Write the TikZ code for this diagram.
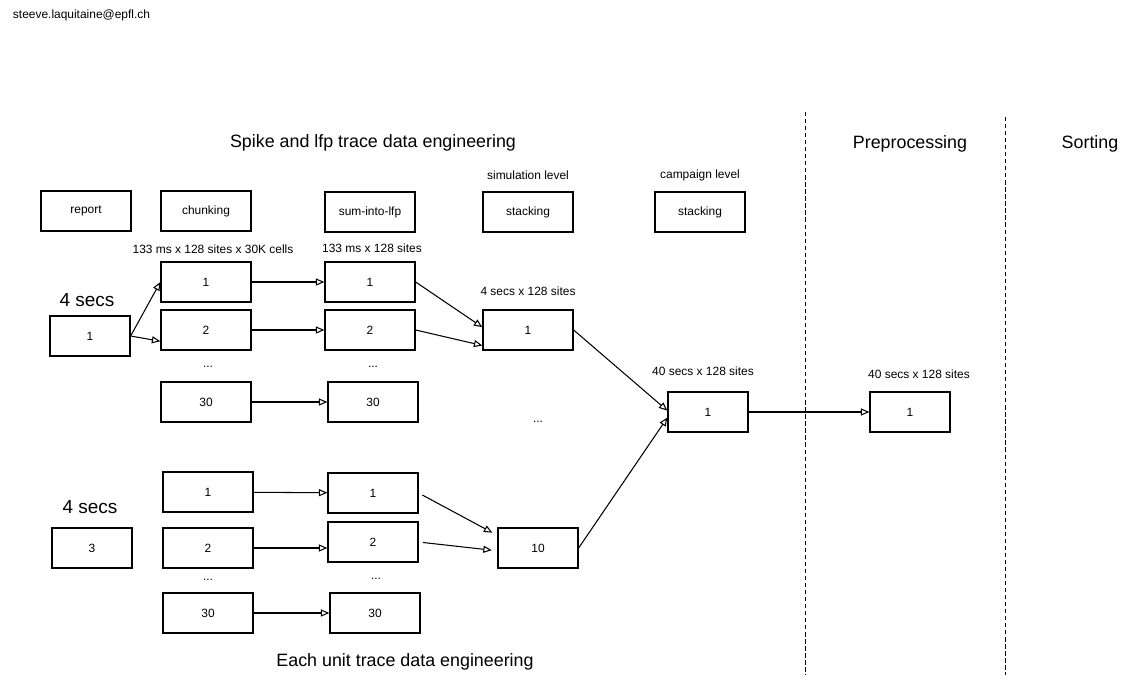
\documentclass[tikz,border=0pt]{standalone}
\usepackage{fontspec}
\setmainfont{Liberation Sans}
\usetikzlibrary{arrows.meta}

\begin{document}
\begin{tikzpicture}[x=0.025cm, y=-0.025cm,
	box/.style={draw, line width=0.9pt, minimum width=2.25cm, minimum height=1cm, inner sep=0pt, font=\fontsize{8.5}{10}\selectfont},
	sbox/.style={box, minimum width=2cm},
	lbl/.style={font=\fontsize{8.5}{10}\selectfont},
	head/.style={font=\fontsize{12.7}{15}\selectfont},
	secs/.style={font=\fontsize{13.5}{16}\selectfont},
	flow/.style={-{Triangle[open,length=6pt,width=5pt]}, line width=0.75pt}]

	\useasboundingbox (0,0) rectangle (1130,687);

	\node[lbl, anchor=west] (mail) at (8,15) {steeve.laquitaine@epfl.ch};

	\node[head] (spike) at (373,143) {Spike and lfp trace data engineering};
	\node[head] (prep) at (910,144) {Preprocessing};
	\node[head] (sort) at (1090,144) {Sorting};
	\node[head] (unit) at (405,662) {Each unit trace data engineering};

	\draw[line width=0.7pt, dash pattern=on 3pt off 2pt] (805,112) -- (805,675);
	\draw[line width=0.7pt, dash pattern=on 3pt off 2pt] (1005,117) -- (1005,675);

	\node[box] (report) at (86,211) {report};
	\node[box] (chunking) at (206,211) {chunking};
	\node[box] (sumlfp) at (370,212) {sum-into-lfp};
	\node[box] (simstack) at (528,212) {stacking};
	\node[box] (campstack) at (700,212) {stacking};
	\node[lbl] (simlvl) at (528,175) {simulation level};
	\node[lbl] (camplvl) at (700,175) {campaign level};

	\node[lbl] (chunklab) at (213,249) {133 ms x 128 sites x 30K cells};
	\node[lbl] (sumlab) at (372,248) {133 ms x 128 sites};
	\node[lbl] (simlab) at (528,291) {4 secs x 128 sites};
	\node[lbl] (camplab) at (703,371) {40 secs x 128 sites};
	\node[lbl] (preplab) at (919,374) {40 secs x 128 sites};

	\node[secs] (secsa) at (87,300) {4 secs};
	\node[sbox] (rec1) at (90,336) {1};

	\node[box] (chunk1) at (206,282) {1};
	\node[box] (chunk2) at (206,330) {2};
	\node[lbl] (chunkdots) at (208,367) {...};
	\node[box] (chunk30) at (206,402) {30};

	\node[box] (sum1) at (370,282) {1};
	\node[box] (sum2) at (370,330) {2};
	\node[lbl] (sumdots) at (373,367) {...};
	\node[box] (sum30) at (373,402) {30};

	\node[box] (sim1) at (528,330) {1};
	\node[lbl] (simdots) at (538,422) {...};
	\node[sbox] (camp1) at (708,412) {1};
	\node[sbox] (prep1) at (910,412) {1};

	\node[secs] (secsb) at (90,507) {4 secs};
	\node[sbox] (rec3) at (92,548) {3};

	\node[box] (chunkb1) at (208,492) {1};
	\node[box] (chunkb2) at (208,548) {2};
	\node[lbl] (chunkbdots) at (208,580) {...};
	\node[box] (chunkb30) at (208,613) {30};

	\node[box] (sumb1) at (373,493) {1};
	\node[box] (sumb2) at (373,542) {2};
	\node[lbl] (sumbdots) at (376,579) {...};
	\node[box] (sumb30) at (375,613) {30};

	\node[sbox] (sim10) at (538,548) {10};

	\draw[flow] (rec1.east) -- (chunk1.west);
	\draw[flow] (rec1.east) -- ([yshift=-8pt]chunk2.west);
	\draw[flow] (chunk1) -- (sum1);
	\draw[flow] (chunk2) -- (sum2);
	\draw[flow] (chunk30) -- (sum30);
	\draw[flow] (sum1.east) -- ([yshift=2pt]sim1.west);
	\draw[flow] (sum2.east) -- ([yshift=-11pt]sim1.west);
	\draw[flow] (sim1.east) -- ([yshift=1pt]camp1.west);
	\draw[flow] (sim10.east) -- ([yshift=-4pt]camp1.west);
	\draw[flow] (camp1) -- (prep1);

	\draw[flow] (chunkb1) -- (sumb1);
	\draw[flow] (chunkb2.east) -- (sumb2.west |- chunkb2.east);
	\draw[flow] (chunkb30) -- (sumb30);
	\draw[flow, shorten <=3pt, shorten >=4pt] (sumb1.east) -- ([yshift=9pt]sim10.west);
	\draw[flow, shorten <=3pt, shorten >=4pt] (sumb2.east) -- ([yshift=-2pt]sim10.west);

\end{tikzpicture}
\end{document}
